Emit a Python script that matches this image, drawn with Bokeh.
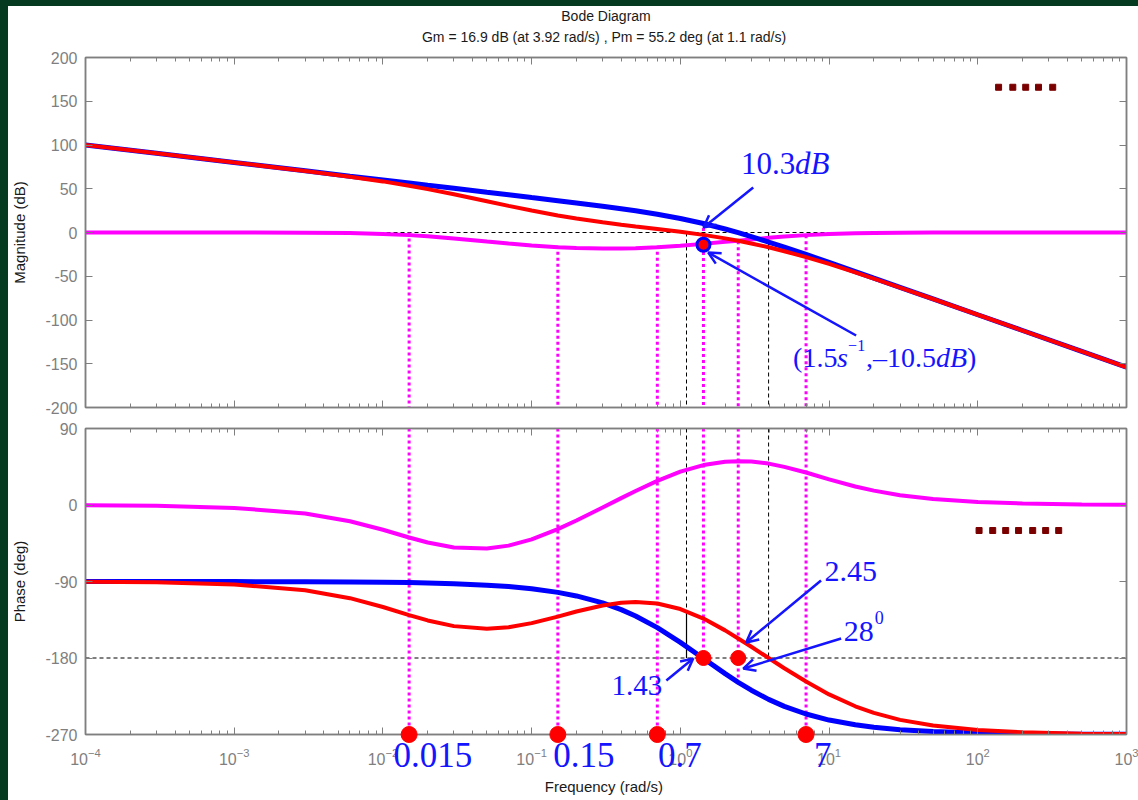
from bokeh.plotting import figure
from bokeh.models import (Range1d, LogAxis, LinearAxis, FixedTicker, LogTicker,
                          Label, Arrow, OpenHead, CustomJSTickFormatter, Div, Span)
from bokeh.core.properties import value
from bokeh.layouts import column, row
from bokeh.embed import file_html
from bokeh.resources import INLINE

# ---------------- data ----------------
freq = [1e-4, 3e-4, 1e-3, 3e-3, 6e-3, 0.01, 0.015, 0.02, 0.03, 0.05, 0.07,
        0.1, 0.15, 0.2, 0.3, 0.4, 0.5, 0.7, 1.0, 1.43, 2.0, 2.45, 3.0, 3.92,
        5.0, 7.0, 10, 15, 20, 30, 50, 100, 200, 500, 1000]

mag_uncomp = [100.0, 90.5, 80.0, 70.5, 64.4, 60.0, 56.5, 54.0, 50.5, 46.0, 43.1,
              39.9, 36.4, 33.8, 30.0, 27.1, 24.8, 20.9, 16.0, 10.3, 4.0, -0.2, -4.7, -10.9,
              -16.7, -25.1, -34.2, -44.6, -52.1, -62.6, -75.9, -94.0, -112.0, -135.9, -154.0]
mag_lag_lead = [0.0, 0.0, 0.0, -0.2, -0.6, -1.6, -3.0, -4.4, -6.8, -10.4, -12.7,
                -14.9, -16.8, -17.7, -18.3, -18.2, -17.9, -16.8, -15.2, -13.0, -10.7, -9.3, -7.9, -6.1,
                -4.6, -3.0, -1.7, -0.9, -0.5, -0.2, -0.1, 0.0, 0.0, 0.0, 0.0]
mag_comp = [100.0, 90.5, 80.0, 70.3, 63.8, 58.4, 53.5, 49.6, 43.7, 35.7, 30.4,
            25.1, 19.5, 16.0, 11.7, 8.9, 6.9, 4.0, 0.9, -2.7, -6.7, -9.5, -12.5, -16.9,
            -21.4, -28.1, -35.9, -45.5, -52.6, -62.9, -76.0, -94.0, -112.1, -135.9, -154.0]

ph_uncomp = [-90.0, -90.0, -90.1, -90.3, -90.5, -90.9, -91.3, -91.7, -92.6, -94.3, -96.0,
             -98.6, -102.8, -107.0, -115.2, -123.1, -130.6, -144.3, -161.6, -180.6, -198.4, -208.6, -217.9, -228.7,
             -236.9, -245.9, -253.0, -258.6, -261.4, -264.3, -266.6, -268.3, -269.1, -269.7, -269.8]
ph_lag_lead = [-0.3, -1.0, -3.4, -9.9, -19.1, -29.1, -38.2, -44.1, -49.9, -51.2, -47.8,
               -40.5, -28.4, -18.3, -3.0, 8.1, 16.5, 28.4, 39.2, 47.0, 50.9, 51.6, 51.1, 48.7,
               44.9, 38.2, 30.2, 21.8, 16.9, 11.5, 7.0, 3.5, 1.8, 0.7, 0.4]
ph_comp = [-90.3, -91.0, -93.5, -100.2, -109.6, -120.0, -129.5, -135.8, -142.5, -145.5, -143.8,
           -139.0, -131.3, -125.3, -118.2, -115.1, -114.1, -115.9, -122.4, -133.6, -147.5, -157.0, -166.8, -180.0,
           -192.0, -207.7, -222.8, -236.8, -244.5, -252.8, -259.5, -264.8, -267.4, -269.0, -269.5]

mag_ticks = [-200, -150, -100, -50, 0, 50, 100, 150, 200]
ph_ticks = [-270, -180, -90, 0, 90]
x_lo, x_hi = 1e-4, 1e3

title_main = "Bode Diagram"
title_sub = "Gm = 16.9 dB (at 3.92 rad/s) ,  Pm = 55.2 deg (at 1.1 rad/s)"
title_y_main = 248   # placed above the magnitude frame (dB units)
title_y_sub = 223

# margins (MATLAB margin markers)
gm_freq, gm_db = 3.92, -16.9
pm_freq, pm_phase = 1.1, -124.8

# magenta dotted guide lines
guide_freq = [0.015, 0.15, 0.7, 1.43, 2.45, 7.0]
guide_top_db = [0, -15, -15, 12, -10, -3]
guide_bottom_deg = [-270, -270, -270, -180, -205, -270]

# red dots and their labels
corner_freq = [0.015, 0.15, 0.7, 7.0]
corner_labels = ["0.015", "0.15", "0.7", "7"]
corner_phase = [-270, -270, -270, -270]
corner_label_freq = [0.0118, 0.140, 0.708, 7.93]
corner_label_deg = [-294, -294, -294, -294]
cross_freq = [1.43, 2.45]
cross_phase = [-180, -180]
mark_freq = [1.43]
mark_db = [-14]

# dark red placeholder dots
deco_top_freq = [138, 172, 210, 256, 319]
deco_top_db = [166, 166, 166, 166, 166]
deco_bot_freq = [102, 126, 154, 188, 234, 286, 350]
deco_bot_deg = [-30, -30, -30, -30, -30, -30, -30]

# ---------------- styling ----------------
GRAY = "#7f7f7f"
BLUE = "#0000ff"
RED = "#ff0000"
MAG = "#ff00ff"
TXT = "#1414ff"
SANS = "Liberation Sans"
SERIF = "Liberation Serif"
GREEN = "#053a21"


def style_axis(ax, labels=True):
    ax.axis_line_color = GRAY
    ax.axis_line_width = 1.5
    ax.major_tick_line_color = GRAY
    ax.minor_tick_line_color = GRAY
    ax.major_tick_in = 7
    ax.major_tick_out = 0
    ax.minor_tick_in = 4
    ax.minor_tick_out = 0
    ax.major_label_text_font = SANS
    ax.major_label_text_font_size = "16px"
    ax.major_label_text_color = GRAY
    ax.axis_label_text_font = SANS
    ax.axis_label_text_font_size = "15px"
    ax.axis_label_text_font_style = "normal"
    ax.axis_label_text_color = "#1a1a1a"
    if not labels:
        ax.formatter = CustomJSTickFormatter(code="return ''")
        ax.major_label_standoff = 0


def make_fig(h, top, bottom, yr, yticks, ylabel, xlabels):
    p = figure(width=1130, height=h, x_axis_type="log",
               x_range=Range1d(x_lo, x_hi), y_range=Range1d(*yr),
               output_backend="svg", toolbar_location=None, title=None,
               min_border_left=75, min_border_right=12,
               min_border_top=top, min_border_bottom=bottom)
    p.grid.visible = False
    p.outline_line_color = GRAY
    p.outline_line_width = 1.5
    p.background_fill_color = "white"
    p.border_fill_color = "white"
    xa = p.xaxis[0]
    xa.ticker = LogTicker(num_minor_ticks=10)
    style_axis(xa, labels=xlabels)
    if xlabels:
        xa.axis_label = "Frequency  (rad/s)"
        xa.major_label_standoff = 13
        xa.axis_label_standoff = 10
    ya = p.yaxis[0]
    ya.ticker = FixedTicker(ticks=yticks, minor_ticks=[])
    style_axis(ya)
    ya.formatter = CustomJSTickFormatter(code="return String(tick)")
    ya.axis_label = ylabel
    ya.major_label_standoff = 8
    ya.axis_label_standoff = 14
    ta = LogAxis(ticker=LogTicker(num_minor_ticks=10))
    style_axis(ta, labels=False)
    p.add_layout(ta, "above")
    ra = LinearAxis(ticker=FixedTicker(ticks=yticks, minor_ticks=[]))
    style_axis(ra, labels=False)
    p.add_layout(ra, "right")
    return p


# ---------------- magnitude panel ----------------
p1 = make_fig(411, 51, 10, (-200, 200), mag_ticks, "Magnitude (dB)", False)
title_x = (x_lo * x_hi) ** 0.5
p1.text([title_x, title_x], [title_y_main, title_y_sub], text=[title_main, title_sub],
        level="overlay", text_font=value(SANS), text_font_size="14px", text_color="#1a1a1a",
        text_align="center", text_baseline="middle")

p1.add_layout(Span(location=0, dimension="width", line_color="black", line_dash="4 3",
                   line_width=1, level="underlay"))
p1.segment(x0=[pm_freq, gm_freq], y0=[0, 0], x1=[pm_freq, gm_freq], y1=[-200, -200],
           line_color="black", line_dash="4 3", line_width=1)
p1.segment(x0=[gm_freq], y0=[0], x1=[gm_freq], y1=[gm_db], line_color="black", line_width=1)
p1.segment(x0=guide_freq, y0=guide_top_db, x1=guide_freq, y1=[-200] * len(guide_freq),
           line_color=MAG, line_dash="3 3", line_width=3)
p1.line(freq, mag_lag_lead, line_color=MAG, line_width=4)
p1.line(freq, mag_uncomp, line_color=BLUE, line_width=5)
p1.line(freq, mag_comp, line_color=RED, line_width=4)
p1.scatter(mark_freq, mark_db, size=13, fill_color=RED, line_color=BLUE, line_width=3)
p1.scatter(deco_top_freq, deco_top_db, marker="square", size=6, fill_color="#7a0000",
           line_color="#7a0000")

# ---------------- phase panel ----------------
p2 = make_fig(383, 11, 66, (-270, 90), ph_ticks, "Phase (deg)", True)
p2.add_layout(Span(location=-180, dimension="width", line_color="black", line_dash="4 3",
                   line_width=1, level="underlay"))
p2.segment(x0=[pm_freq, gm_freq], y0=[90, 90], x1=[pm_freq, gm_freq], y1=[-180, -180],
           line_color="black", line_dash="4 3", line_width=1)
p2.segment(x0=[pm_freq], y0=[pm_phase], x1=[pm_freq], y1=[-180], line_color="black", line_width=1.2)
p2.segment(x0=guide_freq, y0=[90] * len(guide_freq), x1=guide_freq, y1=guide_bottom_deg,
           line_color=MAG, line_dash="3 3", line_width=3)
p2.line(freq, ph_lag_lead, line_color=MAG, line_width=4)
p2.line(freq, ph_uncomp, line_color=BLUE, line_width=5)
p2.line(freq, ph_comp, line_color=RED, line_width=4)
p2.scatter(cross_freq, cross_phase, size=15, fill_color=RED, line_color=RED)
p2.scatter(corner_freq, corner_phase, size=16, fill_color=RED, line_color=RED, level="overlay")
p2.text(corner_label_freq, corner_label_deg, text=corner_labels, level="overlay",
        text_font=value(SERIF), text_font_size="35px", text_color=TXT,
        text_baseline="alphabetic", text_align="left")
p2.scatter(deco_bot_freq, deco_bot_deg, marker="square", size=6, fill_color="#7a0000",
           line_color="#7a0000")


# ---------------- annotations ----------------
def lab(p, x, y, text, size, style="normal", xo=0, yo=0, base=None):
    shift = 0.4 * (base if base else size)
    p.add_layout(Label(x=x, y=y, text=text, x_offset=xo, y_offset=yo + shift,
                       text_font=SERIF, text_font_size=f"{size}px", text_font_style=style,
                       text_color=TXT, text_baseline="alphabetic", text_align="left"))


def arrow(p, x0, y0, x1, y1):
    p.add_layout(Arrow(end=OpenHead(size=12, line_color=TXT, line_width=2.5),
                       x_start=x0, y_start=y0, x_end=x1, y_end=y1,
                       line_color=TXT, line_width=2.5))


# 10.3 dB
lab(p1, 2.56, 65, "10.3", 31)
lab(p1, 2.56, 65, "dB", 31, "italic", xo=54)
arrow(p1, 3.09, 51.4, 1.43, 5.7)
# (1.5 s^-1, -10.5 dB)
lab(p1, 5.73, -156, "(1.5", 28)
lab(p1, 5.73, -156, "s", 28, "italic", xo=44)
lab(p1, 5.73, -156, "\u22121", 16, xo=55, yo=12, base=28)
lab(p1, 5.73, -156, ",\u201310.5", 28, xo=73)
lab(p1, 5.73, -156, "dB", 28, "italic", xo=143)
lab(p1, 5.73, -156, ")", 28, xo=174)
arrow(p1, 15.2, -117.7, 1.54, -22.9)

# phase annotations
lab(p2, 9.3, -92, "2.45", 30)
arrow(p2, 8.83, -88.8, 2.77, -161.8)
lab(p2, 12.55, -163, "28", 30)
lab(p2, 12.55, -163, "0", 18, xo=31, yo=14, base=30)
arrow(p2, 12.05, -157.1, 2.65, -192.4)
lab(p2, 0.344, -226, "1.43", 29)
arrow(p2, 0.805, -206.5, 1.22, -180.6)

# ---------------- page ----------------
top_band = Div(text="", width=1138, height=6, margin=0, styles={"background-color": GREEN})
left_band = Div(text="", width=8, height=794, margin=0, styles={"background-color": GREEN})
layout = column(top_band, row(left_band, column(p1, p2, spacing=0), spacing=0), spacing=0)

open("out.html", "w").write(file_html(layout, INLINE))
